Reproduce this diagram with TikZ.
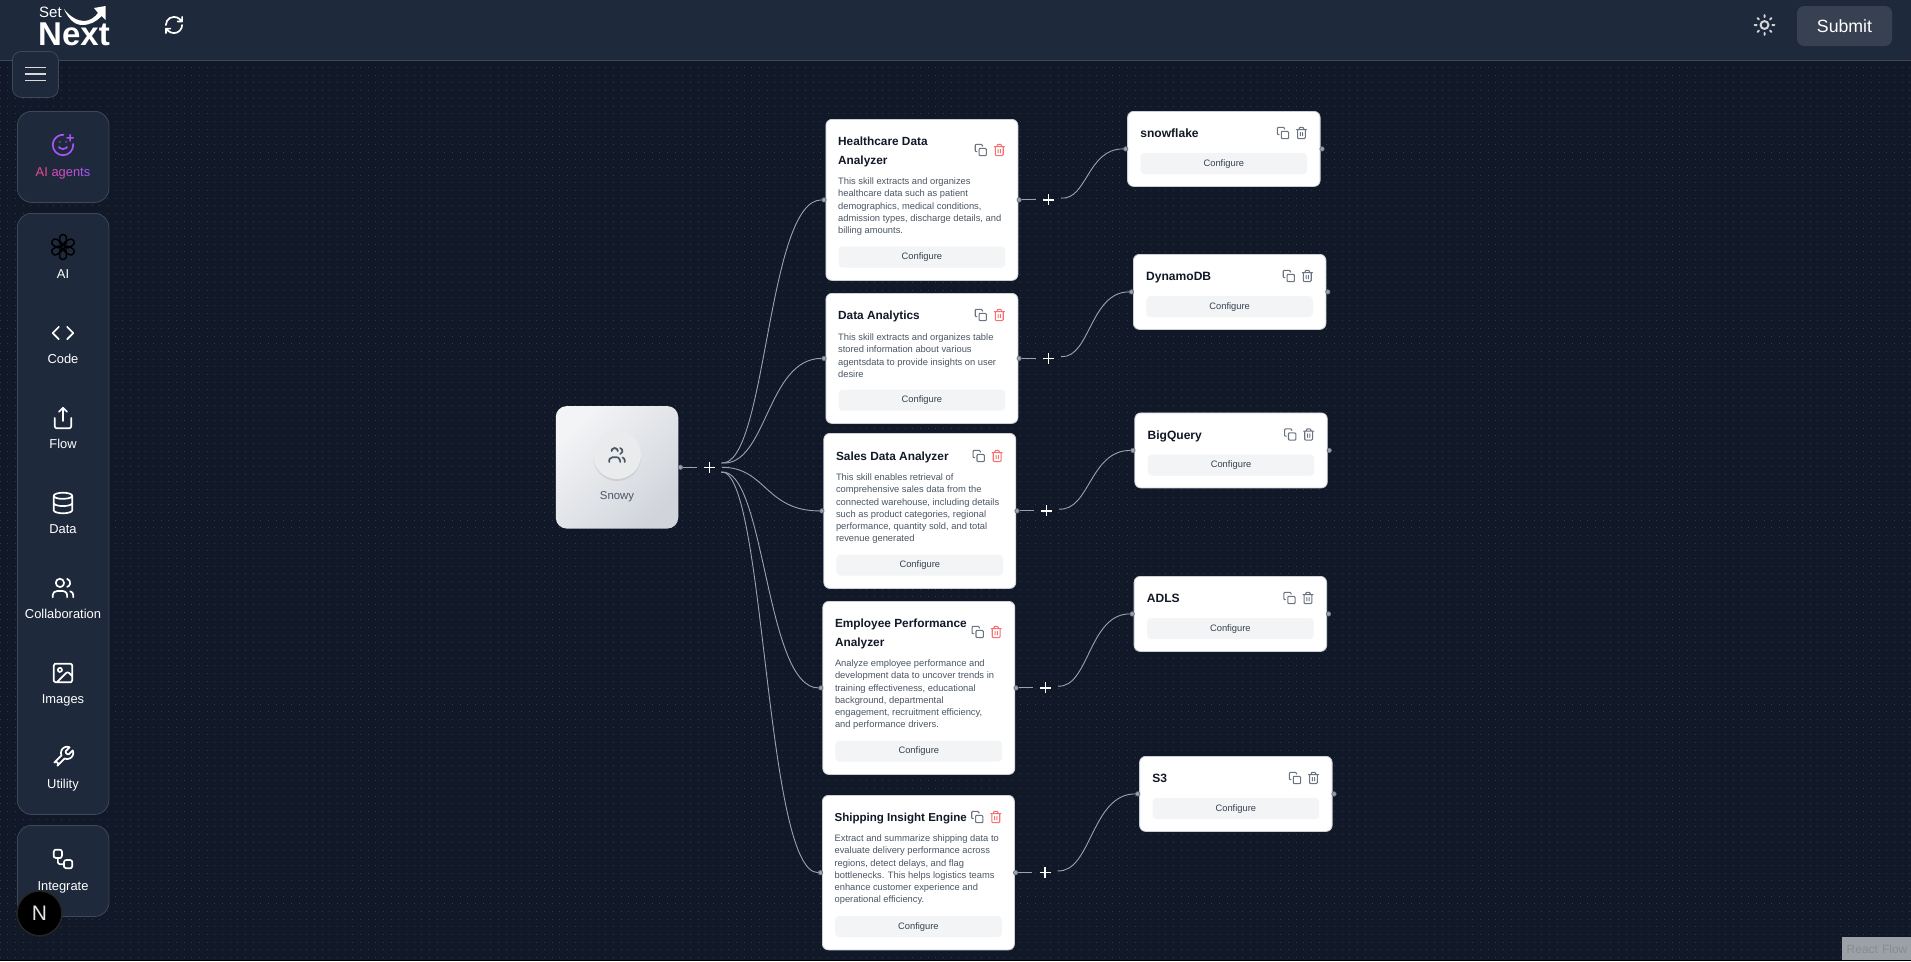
\documentclass[tikz,border=0pt]{standalone}
\usepackage{fontspec}
\setmainfont{Liberation Sans}
\usetikzlibrary{calc,shadows,svg.path}

\definecolor{canvasbg}{HTML}{111827}
\definecolor{barbg}{HTML}{1E293B}
\definecolor{barline}{HTML}{3E4859}
\definecolor{griddot}{HTML}{2F394B}
\definecolor{titleink}{HTML}{111827}
\definecolor{descink}{HTML}{4B5563}
\definecolor{btnink}{HTML}{374151}
\definecolor{btnfill}{HTML}{F3F4F6}
\definecolor{cardline}{HTML}{CBD0D8}
\definecolor{edgegray}{HTML}{9CA3AF}
\definecolor{icongray}{HTML}{6B7280}
\definecolor{trashred}{HTML}{F87171}
\definecolor{agentpink}{HTML}{EC4899}
\definecolor{agentpurple}{HTML}{A855F7}
\definecolor{rootlight}{HTML}{F3F4F6}
\definecolor{rootdark}{HTML}{D1D5DB}
\definecolor{flowtag}{HTML}{9CA1A8}
\definecolor{flowink}{HTML}{868C94}

\tikzstyle{gridrow}=[griddot, line width=.9pt, dash pattern=on .9pt off 6.77pt, dash phase=.45pt]
\tikzstyle{panel}=[draw=barline, fill=barbg, rounded corners=14pt, inner sep=0pt, anchor=north west, line width=.8pt]
\tikzstyle{toollabel}=[text=white, font=\fontsize{12.9}{15}\selectfont, inner sep=0pt, anchor=base]
\tikzstyle{card}=[draw=cardline, fill=white, rounded corners=6pt, inner sep=0pt, anchor=north west, line width=.8pt]
\tikzstyle{cardtitle}=[text=titleink, font=\fontsize{11.85}{19}\selectfont\bfseries, align=left, anchor=north west, inner sep=0pt]
\tikzstyle{carddesc}=[text=descink, font=\fontsize{9.35}{12.3}\selectfont, align=left, anchor=north west, inner sep=0pt]
\tikzstyle{configbtn}=[fill=btnfill, rounded corners=4pt, minimum width=166.7pt, minimum height=21pt, inner sep=0pt,
    text=btnink, font=\fontsize{9.35}{11}\selectfont, anchor=south]
\tikzstyle{handle}=[circle, draw=icongray, fill=edgegray, minimum size=4.4pt, inner sep=0pt, line width=.7pt]
\tikzstyle{edge}=[draw=edgegray, line width=.9pt]
\tikzstyle{plusnode}=[circle, minimum size=25pt, inner sep=0pt,
    path picture={\draw[white, line width=1.4pt] (path picture bounding box.center) +(-5.5,0) -- +(5.5,0)
        (path picture bounding box.center) +(0,-5.5) -- +(0,5.5);}]
\tikzstyle{svgicon}=[yscale=-1, xshift=-12pt, yshift=-12pt, line width=1.7pt, line cap=round, line join=round]

\tikzset{
    copyicon/.pic={\draw[svgicon, line width=1.1pt] svg {M 11 9 H 20 a 2 2 0 0 1 2 2 V 20 a 2 2 0 0 1 -2 2 H 11 a 2 2 0 0 1 -2 -2 V 11 a 2 2 0 0 1 2 -2 Z
        M 5 15 H 4 a 2 2 0 0 1 -2 -2 V 4 a 2 2 0 0 1 2 -2 H 13 a 2 2 0 0 1 2 2 V 5};},
    trashicon/.pic={\draw[svgicon, line width=1.1pt] svg {M 3 6 H 21 M 19 6 V 20 a 2 2 0 0 1 -2 2 H 7 a 2 2 0 0 1 -2 -2 V 6
        M 8 6 V 4 a 2 2 0 0 1 2 -2 H 14 a 2 2 0 0 1 2 2 V 6 M 10 11 V 17 M 14 11 V 17};},
    smileplus/.pic={\draw[svgicon] svg {M 22 11 V 12 a 10 10 0 1 1 -9.5 -10 M 8 14 C 8 14 9.5 16 12 16 C 14.5 16 16 14 16 14
        M 9 9 H 9.01 M 15 9 H 15.01 M 16 5 H 22 M 19 2 V 8};},
    knoticon/.pic={\foreach \ang in {0,60,...,300}
        \draw[black, line width=1.4pt, rotate=\ang, rounded corners=3pt] (-3.3,-12) rectangle (3.3,-1.5);},
    codeicon/.pic={\draw[svgicon] svg {M 16 18 L 22 12 L 16 6 M 8 6 L 2 12 L 8 18};},
    shareicon/.pic={\draw[svgicon] svg {M 4 12 V 20 a 2 2 0 0 0 2 2 H 18 a 2 2 0 0 0 2 -2 V 12 M 16 6 L 12 2 L 8 6 M 12 2 V 15};},
    dataicon/.pic={\draw[svgicon] svg {M 3 5 a 9 3 0 1 0 18 0 a 9 3 0 1 0 -18 0 M 3 5 V 19 A 9 3 0 0 0 21 19 V 5 M 3 12 A 9 3 0 0 0 21 12};},
    usersicon/.pic={\draw[svgicon] svg {M 16 21 V 19 a 4 4 0 0 0 -4 -4 H 6 a 4 4 0 0 0 -4 4 V 21 M 5 7 a 4 4 0 1 0 8 0 a 4 4 0 1 0 -8 0
        M 22 21 V 19 a 4 4 0 0 0 -3 -3.87 M 16 3.13 a 4 4 0 0 1 0 7.75};},
    imageicon/.pic={\draw[svgicon] svg {M 5 3 H 19 a 2 2 0 0 1 2 2 V 19 a 2 2 0 0 1 -2 2 H 5 a 2 2 0 0 1 -2 -2 V 5 a 2 2 0 0 1 2 -2 Z
        M 7 9 a 2 2 0 1 0 4 0 a 2 2 0 1 0 -4 0 M 21 15 L 17.9 11.9 a 2 2 0 0 0 -2.8 0 L 6 21};},
    wrenchicon/.pic={\draw[svgicon] svg {M 14.7 6.3 a 1 1 0 0 0 0 1.4 L 16.3 9.3 a 1 1 0 0 0 1.4 0 L 21.47 5.53 a 6 6 0 0 1 -7.94 7.94 L 6.62 20.38
        a 2.12 2.12 0 0 1 -3 -3 L 10.53 10.47 a 6 6 0 0 1 7.94 -7.94 L 14.71 6.29 Z};},
    flowicon/.pic={\draw[svgicon] svg {M 5 3 H 9 a 2 2 0 0 1 2 2 V 9 a 2 2 0 0 1 -2 2 H 5 a 2 2 0 0 1 -2 -2 V 5 a 2 2 0 0 1 2 -2 Z
        M 7 11 V 15 a 2 2 0 0 0 2 2 H 13 M 15 13 H 19 a 2 2 0 0 1 2 2 V 19 a 2 2 0 0 1 -2 2 H 15 a 2 2 0 0 1 -2 -2 V 15 a 2 2 0 0 1 2 -2 Z};},
    refreshicon/.pic={\draw[svgicon] svg {M 3 12 a 9 9 0 0 1 9 -9 a 9.75 9.75 0 0 1 6.74 2.74 L 21 8 M 21 3 V 8 H 16
        M 21 12 a 9 9 0 0 1 -9 9 a 9.75 9.75 0 0 1 -6.74 -2.74 L 3 16 M 8 16 H 3 V 21};},
    sunicon/.pic={\draw[svgicon, line width=2pt] svg {M 12 2 V 4 M 12 20 V 22 M 4.93 4.93 L 6.34 6.34 M 17.66 17.66 L 19.07 19.07
        M 2 12 H 4 M 20 12 H 22 M 6.34 17.66 L 4.93 19.07 M 19.07 4.93 L 17.66 6.34};
        \draw[line width=2pt] (0,0) circle (4);}
}

\begin{document}
\begin{tikzpicture}[x=1pt, y=-1pt]
    \useasboundingbox (0,0) rectangle (1911,961);
    \fill[canvasbg] (0,0) rectangle (1911,961);
    \foreach \row [evaluate=\row as \rowy using 67.6+7.67*\row] in {0,...,116}
        \draw[gridrow] (0,\rowy) -- (1911,\rowy);
    \fill[black] (0,960) rectangle (1911,961);

    % top bar
    \fill[barbg] (0,0) rectangle (1911,60);
    \draw[barline, line width=.8pt] (0,60.5) -- (1911,60.5);
    \node[text=white, font=\fontsize{15}{15}\selectfont, inner sep=0pt] (logo-set) at (50.5,12.5) {Set};
    \node[text=white, font=\fontsize{33}{33}\selectfont\bfseries, inner sep=0pt] (logo-next) at (74,34.5) {Next};
    \fill[white] (64,9) .. controls (70,17) and (78,21) .. (84,21) .. controls (90,21) and (95,17) .. (98,13)
        -- (94,8) -- (105.5,6) -- (105.5,20) -- (101.5,16) .. controls (96,22) and (90,25) .. (82,25)
        .. controls (74,25) and (68,18) .. (64,9) -- cycle;
    \pic[color=white, scale=.9] at (174,25) {refreshicon};
    \pic[color=rootdark, scale=.98] at (1764.5,25) {sunicon};
    \node[fill=btnink, rounded corners=7pt, minimum width=95pt, minimum height=40pt, inner sep=0pt,
        text=white, font=\fontsize{17.7}{20}\selectfont] (submit) at (1844.5,26) {Submit};

    % side bar
    \node[panel, rounded corners=9pt, minimum width=46pt, minimum height=46pt] (menu) at (12,51) {};
    \foreach \liney in {67.5,74,80.5}
        \draw[white!85!black, line width=1.5pt] (25,\liney) -- (46,\liney);
    \node[panel, minimum width=91.5pt, minimum height=91pt] (agents-panel) at (17,111) {};
    \node[panel, minimum width=91.5pt, minimum height=601pt] (tools-panel) at (17,213) {};
    \node[panel, minimum width=91.5pt, minimum height=91pt] (integrate-panel) at (17,825) {};
    \pic[color=agentpurple, scale=1.02] at (63,145) {smileplus};
    \node[toollabel] (agents) at (63,176.3) {\textcolor{agentpink}{AI} \textcolor{agentpink!65!agentpurple}{ag}\textcolor{agentpink!35!agentpurple}{en}\textcolor{agentpurple}{ts}};
    \foreach \icon/\toolname/\icony/\texty in {knoticon/AI/247/278, codeicon/Code/333/363, shareicon/Flow/418/448,
        dataicon/Data/503/533, usersicon/Collaboration/588/618, imageicon/Images/673/703,
        wrenchicon/Utility/757/788, flowicon/Integrate/859/890}
    {
        \pic[color=white, scale=1.03] at (63,\icony) {\icon};
        \node[toollabel] (\toolname) at (63,\texty) {\toolname};
    }
    \node[circle, fill=black, draw=black!85!white, line width=1.5pt, minimum size=45pt, inner sep=0pt,
        text=white!90!black, font=\fontsize{21}{21}\selectfont] (nextjs) at (39.5,913.3) {N};

    % root node
    \node[rounded corners=11pt, minimum width=122.5pt, minimum height=122.5pt, inner sep=0pt,
        left color=rootlight, right color=rootdark, shading angle=45] (snowy) at (617,467.3) {};
    \node[circle, fill=btnfill!92!gray, minimum size=48pt, inner sep=0pt,
        drop shadow={opacity=.18, shadow xshift=0pt, shadow yshift=-2pt}] (snowy-badge) at (617,455) {};
    \pic[color=descink, scale=.78] at (617,455) {usersicon};
    \node[text=descink, font=\fontsize{11.4}{13}\selectfont, inner sep=0pt] (snowy-label) at (617,497) {Snowy};
    \node[handle] (snowy-out) at ([xshift=2pt]snowy.east) {};
    \node[plusnode] (snowy-plus) at ([xshift=31pt]snowy.east) {};
    \draw[edge] (snowy-out) -- (snowy-plus);

    % skill cards
    \foreach \name/\x/\y/\cardht/\topt/\topd/\topi/\cardname/\cardtext in {
        health/825.5/119/161/18/58.5/31/{Healthcare Data\\Analyzer}/{This skill extracts and organizes\\healthcare data such as patient\\demographics, medical conditions,\\admission types, discharge details, and\\billing amounts.},
        analytics/825.5/293/130/17.5/40.5/22/{Data Analytics}/{This skill extracts and organizes table\\stored information about various\\agentsdata to provide insights on user\\desire},
        sales/823.4/433/155/18.5/40.5/23/{Sales Data Analyzer}/{This skill enables retrieval of\\comprehensive sales data from the\\connected warehouse, including details\\such as product categories, regional\\performance, quantity sold, and total\\revenue generated},
        employee/822.4/601/173/17.5/58.5/31/{Employee Performance\\Analyzer}/{Analyze employee performance and\\development data to uncover trends in\\training effectiveness, educational\\background, departmental\\engagement, recruitment efficiency,\\and performance drivers.},
        shipping/822/795/154.5/17.5/39.5/22/{\fontsize{11.55}{19}\selectfont Shipping Insight Engine}/{Extract and summarize shipping data to\\evaluate delivery performance across\\regions, detect delays, and flag\\bottlenecks. This helps logistics teams\\enhance customer experience and\\operational efficiency.}}
    {
        \node[card, minimum width=192pt, minimum height=\cardht pt] (\name) at (\x,\y) {};
        \node[cardtitle] (\name-title) at ([xshift=12.4pt,yshift=-\topt pt]\name.north west) {\cardname};
        \node[carddesc] (\name-desc) at ([xshift=12.4pt,yshift=-\topd pt]\name.north west) {\cardtext};
        \node[configbtn] (\name-btn) at ([yshift=13pt]\name.south) {Configure};
        \pic[color=icongray, scale=.56] at ([xshift=-37.5pt,yshift=-\topi pt]\name.north east) {copyicon};
        \pic[color=trashred, scale=.56] at ([xshift=-19pt,yshift=-\topi pt]\name.north east) {trashicon};
        \node[handle] (\name-in) at ([xshift=-1.5pt]\name.west) {};
        \node[handle] (\name-out) at ([xshift=.8pt]\name.east) {};
        \node[plusnode] (\name-plus) at ([xshift=30.3pt]\name.east) {};
        \draw[edge] (\name-out) -- (\name-plus);
    }

    % warehouse nodes
    \foreach \name/\x/\y/\cardname in {snowflake/1127.2/111/snowflake, dynamo/1133/254/DynamoDB, bigquery/1134.4/412.5/BigQuery,
        adls/1133.7/576/ADLS, sthree/1139.2/756/S3}
    {
        \node[card, minimum width=192.5pt, minimum height=75pt] (\name) at (\x,\y) {};
        \node[cardtitle, anchor=base west, font=\fontsize{12.05}{14}\selectfont\bfseries] (\name-title) at ([xshift=13pt,yshift=-26.5pt]\name.north west) {\cardname};
        \node[configbtn] (\name-btn) at ([yshift=12.5pt]\name.south) {Configure};
        \pic[color=icongray, scale=.56] at ([xshift=-37.5pt,yshift=-22pt]\name.north east) {copyicon};
        \pic[color=icongray, scale=.56] at ([xshift=-19pt,yshift=-22pt]\name.north east) {trashicon};
        \node[handle] (\name-in) at ([xshift=-1.5pt]\name.west) {};
        \node[handle] (\name-out) at ([xshift=1.5pt]\name.east) {};
    }

    % curved links
    \foreach \source/\target/\ang in {snowy/health/20, snowy/analytics/20, snowy/sales/0, snowy/employee/-22, snowy/shipping/-22,
        health/snowflake/8, analytics/dynamo/8, sales/bigquery/8, employee/adls/8, shipping/sthree/8}
    {
        \coordinate (mid) at ($(\source-plus)!.5!(\target-in)$);
        \draw[edge] (\source-plus.\ang) .. controls (mid |- \source-plus) and (mid |- \target-in) .. (\target-in);
    }

    % attribution
    \node[fill=flowtag, minimum width=70pt, minimum height=23pt, inner sep=4.5pt, anchor=north west, align=left,
        text=flowink, font=\fontsize{12}{14}\selectfont, text width=61pt] (attribution) at (1842,937) {React Flow};
\end{tikzpicture}
\end{document}
